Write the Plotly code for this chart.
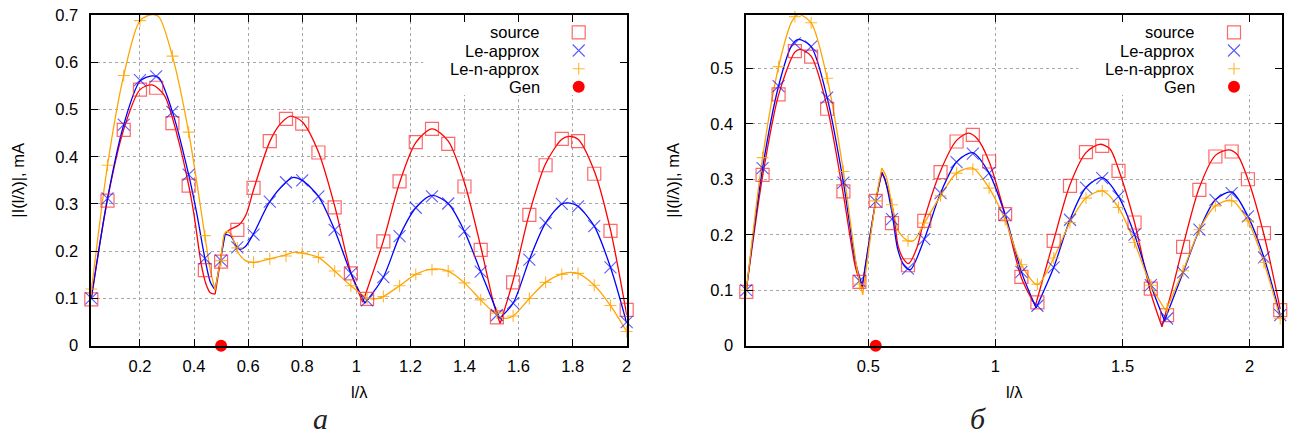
import plotly.graph_objects as go

# ---------------------------------------------------------------- data
# sample points along l/lambda for the two cases
LEFT_X = [0.02, 0.08, 0.14, 0.20, 0.26, 0.32, 0.38, 0.44, 0.50, 0.56, 0.62, 0.68,
          0.74, 0.80, 0.86, 0.92, 0.98, 1.04, 1.10, 1.16, 1.22, 1.28, 1.34, 1.40,
          1.46, 1.52, 1.58, 1.64, 1.70, 1.76, 1.82, 1.88, 1.94, 2.00]
RIGHT_X = [0.02, 0.084, 0.147, 0.211, 0.275, 0.338, 0.402, 0.465, 0.529, 0.593,
           0.656, 0.72, 0.784, 0.847, 0.911, 0.975, 1.038, 1.102, 1.165, 1.229,
           1.293, 1.356, 1.42, 1.484, 1.547, 1.611, 1.675, 1.738, 1.802, 1.865,
           1.929, 1.993, 2.056, 2.12]

# |I(l/lambda)|, mA at the sample points
LEFT_SOURCE = [0.098, 0.307, 0.457, 0.542, 0.546, 0.471, 0.339, 0.160, 0.178, 0.245,
               0.334, 0.433, 0.480, 0.470, 0.409, 0.293, 0.153, 0.099, 0.221, 0.348,
               0.431, 0.459, 0.427, 0.337, 0.203, 0.060, 0.134, 0.277, 0.382, 0.438,
               0.433, 0.364, 0.243, 0.076]
LEFT_LE = [0.100, 0.312, 0.468, 0.562, 0.570, 0.495, 0.362, 0.185, 0.180, 0.208,
           0.235, 0.305, 0.346, 0.350, 0.316, 0.245, 0.153, 0.096, 0.145, 0.232,
           0.292, 0.316, 0.301, 0.242, 0.157, 0.065, 0.090, 0.182, 0.260, 0.300,
           0.295, 0.253, 0.166, 0.050]
LEFT_LEN = [0.120, 0.382, 0.572, 0.688, 0.701, 0.613, 0.452, 0.233, 0.180, 0.207,
            0.177, 0.184, 0.190, 0.196, 0.187, 0.158, 0.127, 0.101, 0.104, 0.127,
            0.151, 0.161, 0.158, 0.133, 0.097, 0.069, 0.063, 0.100, 0.134, 0.151,
            0.153, 0.128, 0.085, 0.030]

RIGHT_SOURCE = [0.097, 0.308, 0.453, 0.531, 0.521, 0.427, 0.278, 0.115, 0.261, 0.221,
                0.145, 0.225, 0.313, 0.368, 0.380, 0.332, 0.237, 0.124, 0.078, 0.189,
                0.288, 0.349, 0.360, 0.315, 0.222, 0.103, 0.055, 0.178, 0.281, 0.341,
                0.350, 0.300, 0.203, 0.064]
RIGHT_LE = [0.100, 0.320, 0.468, 0.545, 0.539, 0.447, 0.294, 0.117, 0.260, 0.228,
            0.139, 0.192, 0.275, 0.331, 0.346, 0.311, 0.236, 0.133, 0.072, 0.141,
            0.227, 0.285, 0.302, 0.269, 0.200, 0.109, 0.049, 0.132, 0.209, 0.263,
            0.275, 0.233, 0.159, 0.055]
RIGHT_LEN = [0.100, 0.339, 0.503, 0.593, 0.582, 0.482, 0.314, 0.111, 0.261, 0.254,
             0.189, 0.221, 0.270, 0.311, 0.318, 0.284, 0.227, 0.146, 0.111, 0.158,
             0.222, 0.266, 0.279, 0.249, 0.186, 0.109, 0.067, 0.135, 0.209, 0.252,
             0.261, 0.225, 0.150, 0.049]

# generator position
LEFT_GEN = (0.50, 0.0)
RIGHT_GEN = (0.529, 0.0)

# fitted curves, one list of (x, y) per smooth piece (pieces meet at cusps)
LEFT_SOURCE_CURVE = [
    [(0.02, 0.10), (0.08, 0.31), (0.14, 0.458), (0.20, 0.542), (0.245, 0.552), (0.29, 0.53),
     (0.34, 0.44), (0.38, 0.34), (0.40, 0.277), (0.427, 0.171), (0.445, 0.129), (0.46, 0.112),
     (0.478, 0.109)],
    [(0.478, 0.109), (0.495, 0.17), (0.512, 0.235)],
    [(0.512, 0.235), (0.53, 0.245), (0.567, 0.256), (0.592, 0.277), (0.62, 0.33), (0.68, 0.432),
     (0.72, 0.47), (0.757, 0.486), (0.80, 0.474), (0.86, 0.41), (0.92, 0.296), (0.98, 0.155),
     (1.024, 0.092)],
    [(1.024, 0.092), (1.10, 0.222), (1.16, 0.345), (1.22, 0.43), (1.28, 0.459), (1.34, 0.433),
     (1.40, 0.345), (1.46, 0.21), (1.51, 0.085), (1.532, 0.047)],
    [(1.532, 0.047), (1.58, 0.138), (1.64, 0.28), (1.70, 0.385), (1.76, 0.437), (1.788, 0.443),
     (1.82, 0.437), (1.88, 0.37), (1.94, 0.245), (2.0, 0.065)],
]
LEFT_LE_CURVE = [
    [(0.02, 0.10), (0.08, 0.312), (0.14, 0.468), (0.20, 0.56), (0.245, 0.571), (0.27, 0.567),
     (0.32, 0.495), (0.38, 0.362), (0.41, 0.28), (0.44, 0.185), (0.46, 0.135), (0.478, 0.118)],
    [(0.478, 0.118), (0.497, 0.18), (0.515, 0.236)],
    [(0.515, 0.236), (0.537, 0.231), (0.557, 0.21), (0.57, 0.204), (0.59, 0.21), (0.62, 0.237),
     (0.68, 0.305), (0.74, 0.346), (0.765, 0.356), (0.80, 0.35), (0.86, 0.316), (0.92, 0.245),
     (0.98, 0.153), (1.032, 0.09)],
    [(1.032, 0.09), (1.10, 0.145), (1.16, 0.232), (1.22, 0.292), (1.28, 0.318), (1.34, 0.301),
     (1.40, 0.242), (1.46, 0.157), (1.53, 0.058)],
    [(1.53, 0.058), (1.58, 0.09), (1.64, 0.182), (1.70, 0.26), (1.76, 0.30), (1.79, 0.302),
     (1.82, 0.295), (1.88, 0.253), (1.94, 0.166), (2.0, 0.048)],
]
LEFT_LEN_CURVE = [
    [(0.02, 0.115), (0.08, 0.382), (0.14, 0.572), (0.20, 0.688), (0.245, 0.701), (0.27, 0.696),
     (0.32, 0.613), (0.38, 0.452), (0.44, 0.233), (0.46, 0.16), (0.478, 0.118)],
    [(0.478, 0.118), (0.50, 0.19), (0.512, 0.236), (0.52, 0.242), (0.537, 0.236), (0.56, 0.2),
     (0.59, 0.18), (0.62, 0.176), (0.68, 0.184), (0.74, 0.192), (0.77, 0.198), (0.80, 0.196),
     (0.86, 0.187), (0.92, 0.158), (0.98, 0.127), (1.04, 0.101), (1.07, 0.099), (1.10, 0.104),
     (1.16, 0.127), (1.22, 0.151), (1.28, 0.162), (1.34, 0.158), (1.40, 0.133), (1.46, 0.097),
     (1.52, 0.065), (1.55, 0.058), (1.58, 0.063), (1.64, 0.10), (1.70, 0.134), (1.76, 0.152),
     (1.79, 0.155), (1.82, 0.153), (1.88, 0.128), (1.94, 0.085), (2.0, 0.03)],
]

RIGHT_SOURCE_CURVE = [
    [(0.02, 0.10), (0.084, 0.305), (0.147, 0.452), (0.211, 0.529), (0.232, 0.534), (0.275, 0.522),
     (0.338, 0.43), (0.402, 0.272), (0.45, 0.14), (0.476, 0.105)],
    [(0.476, 0.105), (0.529, 0.26), (0.554, 0.313)],
    [(0.554, 0.313), (0.565, 0.30), (0.597, 0.245), (0.618, 0.178), (0.64, 0.155), (0.658, 0.148),
     (0.69, 0.175), (0.72, 0.228), (0.784, 0.315), (0.847, 0.37), (0.895, 0.383), (0.93, 0.372),
     (0.975, 0.332), (1.038, 0.236), (1.102, 0.122), (1.157, 0.072)],
    [(1.157, 0.072), (1.229, 0.19), (1.293, 0.29), (1.356, 0.348), (1.41, 0.363), (1.45, 0.355),
     (1.484, 0.318), (1.547, 0.222), (1.611, 0.095), (1.655, 0.034)],
    [(1.655, 0.034), (1.70, 0.11), (1.738, 0.18), (1.802, 0.285), (1.865, 0.343), (1.917, 0.353),
     (1.95, 0.345), (1.993, 0.30), (2.056, 0.2), (2.12, 0.066)],
]
RIGHT_LE_CURVE = [
    [(0.02, 0.10), (0.084, 0.32), (0.147, 0.468), (0.20, 0.542), (0.225, 0.552), (0.275, 0.539),
     (0.338, 0.447), (0.402, 0.294), (0.45, 0.15), (0.476, 0.108)],
    [(0.476, 0.108), (0.529, 0.26), (0.552, 0.312)],
    [(0.552, 0.312), (0.565, 0.30), (0.593, 0.24), (0.615, 0.175), (0.64, 0.145), (0.665, 0.137),
     (0.72, 0.192), (0.784, 0.275), (0.847, 0.331), (0.91, 0.348), (0.975, 0.311), (1.038, 0.236),
     (1.102, 0.133), (1.16, 0.068)],
    [(1.16, 0.068), (1.229, 0.141), (1.293, 0.227), (1.356, 0.285), (1.42, 0.303), (1.484, 0.269),
     (1.547, 0.2), (1.611, 0.109), (1.665, 0.045)],
    [(1.665, 0.045), (1.738, 0.132), (1.802, 0.209), (1.865, 0.263), (1.929, 0.277), (1.993, 0.233),
     (2.056, 0.159), (2.12, 0.055)],
]
RIGHT_LEN_CURVE = [
    [(0.02, 0.10), (0.084, 0.339), (0.147, 0.503), (0.20, 0.585), (0.225, 0.597), (0.275, 0.582),
     (0.338, 0.482), (0.402, 0.314), (0.455, 0.14), (0.478, 0.092)],
    [(0.478, 0.092), (0.529, 0.261), (0.553, 0.32)],
    [(0.553, 0.32), (0.57, 0.305), (0.593, 0.254), (0.62, 0.205), (0.656, 0.189), (0.68, 0.19),
     (0.72, 0.221), (0.784, 0.27), (0.847, 0.311), (0.91, 0.32), (0.975, 0.284), (1.038, 0.227),
     (1.102, 0.146), (1.165, 0.11), (1.229, 0.158), (1.293, 0.222), (1.356, 0.266), (1.42, 0.279),
     (1.484, 0.249), (1.547, 0.186), (1.611, 0.109), (1.67, 0.063)],
    [(1.67, 0.063), (1.738, 0.135), (1.802, 0.209), (1.865, 0.252), (1.929, 0.262), (1.993, 0.225),
     (2.056, 0.15), (2.12, 0.049)],
]

# axis ticks and ranges
LEFT_XRANGE, LEFT_YRANGE = [0.02, 2.0], [0, 0.7]
RIGHT_XRANGE, RIGHT_YRANGE = [0.02, 2.127], [0, 0.596]
LEFT_XTICKS = [0.2, 0.4, 0.6, 0.8, 1.0, 1.2, 1.4, 1.6, 1.8, 2.0]
LEFT_XTICKTEXT = ["0.2", "0.4", "0.6", "0.8", "1", "1.2", "1.4", "1.6", "1.8", "2"]
LEFT_YTICKS = [0, 0.1, 0.2, 0.3, 0.4, 0.5, 0.6, 0.7]
LEFT_YTICKTEXT = ["0", "0.1", "0.2", "0.3", "0.4", "0.5", "0.6", "0.7"]
RIGHT_XTICKS = [0.5, 1.0, 1.5, 2.0]
RIGHT_XTICKTEXT = ["0.5", "1", "1.5", "2"]
RIGHT_YTICKS = [0, 0.1, 0.2, 0.3, 0.4, 0.5]
RIGHT_YTICKTEXT = ["0", "0.1", "0.2", "0.3", "0.4", "0.5"]

SERIES_NAMES = ["source", "Le-approx", "Le-n-approx", "Gen"]

# ---------------------------------------------------------------- styles
W, H = 1290, 434
RED, BLUE, ORANGE = "#ff0000", "#0000ff", "#ffa500"
FONT = "Liberation Sans, Arial, sans-serif"
FS = 16.5

SRC_MARK = dict(symbol="square-open", size=13, color="rgba(255,40,40,0.7)", line=dict(width=1.2))
LE_MARK = dict(symbol="x-thin-open", size=12, color="rgba(20,20,255,0.7)", line=dict(width=1.1))
LEN_MARK = dict(symbol="cross-thin-open", size=8.5, color="rgba(255,165,0,0.8)", line=dict(width=1.1))
GEN_MARK = dict(symbol="circle", size=12, color=RED)

# plot areas in pixels (left, right, top, bottom)
PANELS = {
    "left": (91.3, 626.7, 15.0, 345.7),
    "right": (746.3, 1282.0, 15.0, 345.7),
}
KEY_BOX_LEFT = 0.62      # fraction of panel width where the key's blank area starts
KEY_BOX_BOTTOM = 95.0    # pixel row where the key's blank area ends


def joined(pieces):
    xs, ys = [], []
    for k, piece in enumerate(pieces):
        if k:
            xs.append(None)
            ys.append(None)
        xs += [p[0] for p in piece]
        ys += [p[1] for p in piece]
    return xs, ys


fig = go.Figure()


def add_panel(xa, ya, xs, src, le, len_, curves, gen, xr, yr, px):
    x0, x1, y0, y1 = px
    # opaque key background, drawn above the grid and below the data
    bx0 = xr[0] + KEY_BOX_LEFT * (xr[1] - xr[0])
    by0 = yr[0] + (y1 - KEY_BOX_BOTTOM) / (y1 - y0) * (yr[1] - yr[0])
    fig.add_trace(go.Scatter(x=[bx0, xr[1], xr[1], bx0, bx0], y=[by0, by0, yr[1], yr[1], by0],
                             mode="lines", fill="toself", fillcolor="white",
                             line=dict(width=0, color="white"), xaxis=xa, yaxis=ya,
                             hoverinfo="skip"))
    for pieces, color in zip(curves, (RED, BLUE, ORANGE)):
        cx, cy = joined(pieces)
        fig.add_trace(go.Scatter(x=cx, y=cy, mode="lines", xaxis=xa, yaxis=ya,
                                 line=dict(color=color, width=1.3, shape="spline", smoothing=0.8),
                                 connectgaps=False, hoverinfo="skip"))
    for vals, mk, nm in ((src, SRC_MARK, SERIES_NAMES[0]), (le, LE_MARK, SERIES_NAMES[1]),
                         (len_, LEN_MARK, SERIES_NAMES[2])):
        fig.add_trace(go.Scatter(x=xs, y=vals, mode="markers", xaxis=xa, yaxis=ya, marker=mk,
                                 cliponaxis=False, name=nm))
    fig.add_trace(go.Scatter(x=[gen[0]], y=[gen[1]], mode="markers", xaxis=xa, yaxis=ya,
                             marker=GEN_MARK, cliponaxis=False, name=SERIES_NAMES[3]))


add_panel("x", "y", LEFT_X, LEFT_SOURCE, LEFT_LE, LEFT_LEN,
          (LEFT_SOURCE_CURVE, LEFT_LE_CURVE, LEFT_LEN_CURVE), LEFT_GEN,
          LEFT_XRANGE, LEFT_YRANGE, PANELS["left"])
add_panel("x2", "y2", RIGHT_X, RIGHT_SOURCE, RIGHT_LE, RIGHT_LEN,
          (RIGHT_SOURCE_CURVE, RIGHT_LE_CURVE, RIGHT_LEN_CURVE), RIGHT_GEN,
          RIGHT_XRANGE, RIGHT_YRANGE, PANELS["right"])

# key: text right-aligned, symbol to its right
KEY_ROWS = [32.3, 50.5, 68.8, 86.8]
KEY_MARKS = [SRC_MARK, LE_MARK, LEN_MARK, GEN_MARK]
annotations = []
for name, (x0, x1, y0, y1) in PANELS.items():
    text_right = x1 - 85
    sym_x = x1 - 48
    for label, row, mk in zip(SERIES_NAMES, KEY_ROWS, KEY_MARKS):
        annotations.append(dict(x=text_right / W, y=1 - row / H, xref="paper", yref="paper",
                                text=label, showarrow=False, xanchor="right", yanchor="middle",
                                font=dict(family=FONT, size=FS, color="black")))
        fig.add_trace(go.Scatter(x=[sym_x], y=[row], mode="markers", xaxis="x3", yaxis="y3",
                                 marker=mk, hoverinfo="skip", cliponaxis=False))
    # axis titles
    cx = (x0 + x1) / 2
    annotations.append(dict(x=cx / W, y=1 - 391.5 / H, xref="paper", yref="paper", text="l/λ",
                            showarrow=False, xanchor="center", yanchor="middle",
                            font=dict(family=FONT, size=FS, color="black")))
    annotations.append(dict(x=(x0 - 73) / W, y=1 - ((y0 + y1) / 2) / H, xref="paper", yref="paper",
                            text="|I(l/λ)|, mA", textangle=-90, showarrow=False,
                            xanchor="center", yanchor="middle",
                            font=dict(family=FONT, size=FS, color="black")))

# panel captions
for ch, px in (("а", 320), ("б", 978)):
    annotations.append(dict(x=px / W, y=1 - 418 / H, xref="paper", yref="paper", text=ch,
                            showarrow=False, xanchor="center", yanchor="middle",
                            font=dict(family="Liberation Serif, DejaVu Serif, serif", size=30,
                                      color="#222222", style="italic")))


def axis_common():
    return dict(showline=True, linecolor="black", linewidth=1.5, mirror="ticks",
                ticks="inside", ticklen=7, tickwidth=1.2, tickcolor="black",
                showgrid=True, gridcolor="#a8a8a8", griddash="dot", gridwidth=1,
                zeroline=False, tickfont=dict(family=FONT, size=FS, color="black"),
                tickmode="array", fixedrange=True, layer="above traces", automargin=False)


lx0, lx1, ly0, ly1 = PANELS["left"]
rx0, rx1, ry0, ry1 = PANELS["right"]
ydom = [1 - ly1 / H, 1 - ly0 / H]

fig.update_layout(
    template="none",
    width=W, height=H, margin=dict(l=0, r=0, t=0, b=0, pad=0, autoexpand=False),
    paper_bgcolor="white", plot_bgcolor="rgba(0,0,0,0)", showlegend=False,
    xaxis=dict(domain=[lx0 / W, lx1 / W], range=LEFT_XRANGE, anchor="y",
               tickvals=LEFT_XTICKS, ticktext=LEFT_XTICKTEXT, ticklabelstandoff=5,
               **axis_common()),
    yaxis=dict(domain=ydom, range=LEFT_YRANGE, anchor="x",
               tickvals=LEFT_YTICKS, ticktext=LEFT_YTICKTEXT, ticklabelstandoff=8,
               **axis_common()),
    xaxis2=dict(domain=[rx0 / W, rx1 / W], range=RIGHT_XRANGE, anchor="y2",
                tickvals=RIGHT_XTICKS, ticktext=RIGHT_XTICKTEXT, ticklabelstandoff=5,
                **axis_common()),
    yaxis2=dict(domain=ydom, range=RIGHT_YRANGE, anchor="x2",
                tickvals=RIGHT_YTICKS, ticktext=RIGHT_YTICKTEXT, ticklabelstandoff=8,
                **axis_common()),
    xaxis3=dict(domain=[0, 1], range=[0, W], anchor="y3", visible=False, fixedrange=True,
                automargin=False),
    yaxis3=dict(domain=[0, 1], range=[H, 0], anchor="x3", visible=False, fixedrange=True,
                automargin=False),
    annotations=annotations,
)

fig.write_html("out.html")
